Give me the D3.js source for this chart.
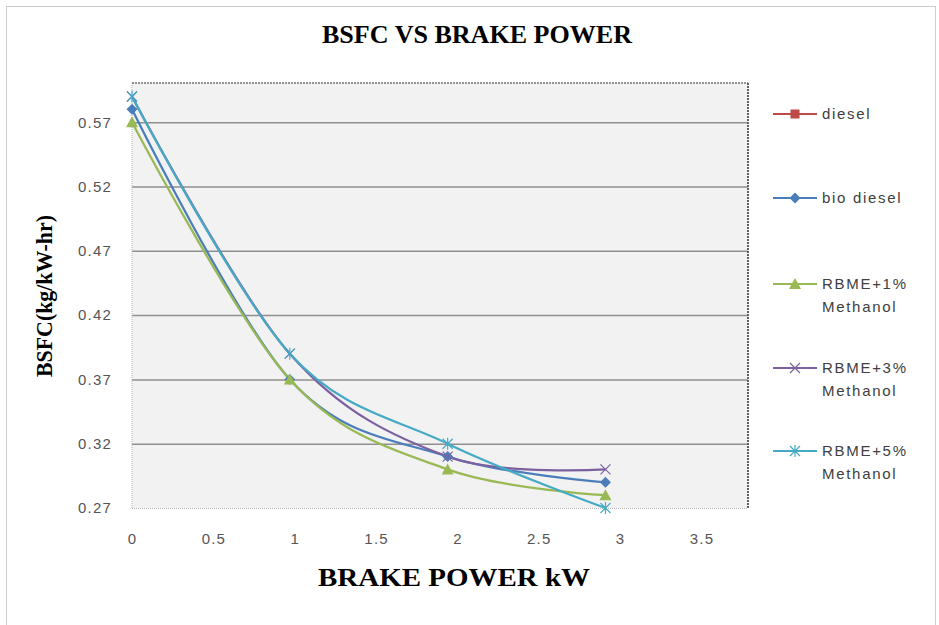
<!DOCTYPE html>
<html><head><meta charset="utf-8">
<script src="https://cdn.jsdelivr.net/npm/d3@7"></script>
<style>body{margin:0;background:#fff}svg{display:block}</style>
</head><body>
<svg id="c" width="939" height="625"></svg>
<script>
const xValues = [0, 0.97, 1.94, 2.91];
const seriesNames = ["diesel", "bio diesel", "RBME+1% Methanol", "RBME+3% Methanol", "RBME+5% Methanol"];
const diesel   = [null, null, null, null];   // not visible in the plot
const bioDiesel= [0.58, 0.37, 0.31, 0.29];
const rbme1    = [0.57, 0.37, 0.30, 0.28];
const rbme3    = [0.59, 0.39, 0.31, 0.30];
const rbme5    = [0.59, 0.39, 0.32, 0.27];
const xTicks = [0, 0.5, 1, 1.5, 2, 2.5, 3, 3.5];
const yTicks = [0.27, 0.32, 0.37, 0.42, 0.47, 0.52, 0.57];
const colors = ["#BE4B48", "#4A7EBB", "#98B954", "#7D60A0", "#46AAC5"];
const markers = ["square", "diamond", "triangle", "x", "star"];
const values = [diesel, bioDiesel, rbme1, rbme3, rbme5];

const svg = d3.select("#c");
const L = 132, R = 748, T = 83, B = 508;
const x = d3.scaleLinear().domain([0, 3.786]).range([L, R]);
const y = d3.scaleLinear().domain([0.27, 0.6005]).range([B, T]);

// outer border
svg.append("rect").attr("x", 6.5).attr("y", 6.5).attr("width", 929).attr("height", 630)
  .attr("fill", "#fff").attr("stroke", "#9a9a9a").attr("stroke-width", 1).attr("stroke-dasharray", "1,1");

// plot area
svg.append("rect").attr("x", L).attr("y", T).attr("width", R - L).attr("height", B - T).attr("fill", "#f2f2f2");

// gridlines
const yAxis = d3.axisLeft(y).tickValues(yTicks).tickSize(-(R - L)).tickFormat(d3.format(".2f"));
const gy = svg.append("g").attr("transform", `translate(${L},0)`).call(yAxis);
gy.select(".domain").remove();
gy.selectAll(".tick line").attr("stroke", "#8f8f8f").attr("stroke-width", 1.5)
  .filter(d => d === 0.27).remove();
gy.selectAll(".tick text").attr("x", -20).attr("fill", "#555")
  .style("font-family", "'Liberation Sans', Arial, sans-serif").style("font-size", "15px")
  .style("letter-spacing", "1.2px");

const xAxis = d3.axisBottom(x).tickValues(xTicks).tickSize(0).tickFormat(d => String(d));
const gx = svg.append("g").attr("transform", `translate(0,${B})`).call(xAxis);
gx.select(".domain").remove();
gx.selectAll(".tick text").attr("y", 25).attr("dy", "0.71em").attr("fill", "#555")
  .style("font-family", "'Liberation Sans', Arial, sans-serif").style("font-size", "15px")
  .style("letter-spacing", "1.2px");

// plot borders
svg.append("line").attr("x1", L).attr("x2", L).attr("y1", T).attr("y2", B)
  .attr("stroke", "#b5b5b5").attr("stroke-dasharray", "1,1");
svg.append("line").attr("x1", L).attr("x2", R).attr("y1", B + 0.5).attr("y2", B + 0.5)
  .attr("stroke", "#b5b5b5").attr("stroke-dasharray", "1,1");
svg.append("line").attr("x1", L).attr("x2", R).attr("y1", T).attr("y2", T)
  .attr("stroke", "#707070").attr("stroke-width", 1.5).attr("stroke-dasharray", "2,1");
svg.append("line").attr("x1", R).attr("x2", R).attr("y1", T).attr("y2", B)
  .attr("stroke", "#606060").attr("stroke-width", 2).attr("stroke-dasharray", "2,1");

function drawMarker(g, type, cx, cy, color) {
  if (type === "square") {
    g.append("rect").attr("x", cx - 4.5).attr("y", cy - 4.5).attr("width", 9).attr("height", 9).attr("fill", color);
  } else if (type === "diamond") {
    g.append("path").attr("d", `M${cx},${cy-5.5}L${cx+5.5},${cy}L${cx},${cy+5.5}L${cx-5.5},${cy}Z`).attr("fill", color);
  } else if (type === "triangle") {
    g.append("path").attr("d", `M${cx},${cy-6}L${cx+6},${cy+5}L${cx-6},${cy+5}Z`).attr("fill", color);
  } else if (type === "x") {
    g.append("path").attr("d", `M${cx-5},${cy-5}L${cx+5},${cy+5}M${cx-5},${cy+5}L${cx+5},${cy-5}`)
      .attr("stroke", color).attr("stroke-width", 1.2).attr("fill", "none");
  } else if (type === "star") {
    g.append("path").attr("d", `M${cx-5},${cy-5}L${cx+5},${cy+5}M${cx-5},${cy+5}L${cx+5},${cy-5}M${cx},${cy-6}L${cx},${cy+6}`)
      .attr("stroke", color).attr("stroke-width", 1.2).attr("fill", "none");
  }
}

const line = d3.line().defined(d => d[1] != null)
  .x(d => x(d[0])).y(d => y(d[1])).curve(d3.curveCardinal.tension(0));
const plot = svg.append("g");
values.forEach((vals, i) => {
  const pts = xValues.map((xv, j) => [xv, vals[j]]);
  plot.append("path").datum(pts).attr("d", line).attr("fill", "none")
    .attr("stroke", colors[i]).attr("stroke-width", 2.25);
});
values.forEach((vals, i) => {
  const g = plot.append("g");
  xValues.forEach((xv, j) => { if (vals[j] != null) drawMarker(g, markers[i], x(xv), y(vals[j]), colors[i]); });
});

// legend
const legY = [114, 198, 284, 368, 451];
const leg = svg.append("g");
seriesNames.forEach((name, i) => {
  const ly = legY[i];
  leg.append("line").attr("x1", 773).attr("x2", 817).attr("y1", ly).attr("y2", ly)
    .attr("stroke", colors[i]).attr("stroke-width", 2);
  drawMarker(leg, markers[i], 795, ly, colors[i]);
  const parts = name.indexOf(" Methanol") > 0 ? [name.replace(" Methanol", ""), "Methanol"] : [name];
  parts.forEach((p, k) => {
    leg.append("text").attr("x", 822).attr("y", ly + 5 + k * 23).text(p)
      .attr("fill", "#404040").style("font-family", "'Liberation Sans', Arial, sans-serif")
      .style("font-size", "15px").style("letter-spacing", "1.7px");
  });
});

// titles
const serif = "'Liberation Serif', 'Times New Roman', serif";
svg.append("text").attr("x", 322).attr("y", 43).text("BSFC VS BRAKE POWER")
  .attr("textLength", 310).attr("lengthAdjust", "spacingAndGlyphs")
  .style("font-family", serif).style("font-weight", "bold").style("font-size", "25px").attr("fill", "#000");
svg.append("text").attr("x", 318).attr("y", 586).text("BRAKE POWER kW")
  .attr("textLength", 272).attr("lengthAdjust", "spacingAndGlyphs")
  .style("font-family", serif).style("font-weight", "bold").style("font-size", "25px").attr("fill", "#000");
svg.append("text").attr("transform", "translate(52,377) rotate(-90)").text("BSFC(kg/kW-hr)")
  .attr("textLength", 162).attr("lengthAdjust", "spacingAndGlyphs")
  .style("font-family", serif).style("font-weight", "bold").style("font-size", "24px").attr("fill", "#000");
</script>
</body></html>
